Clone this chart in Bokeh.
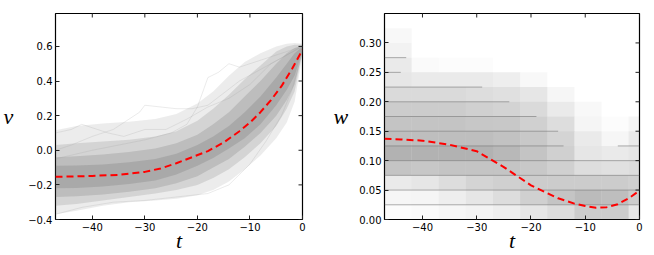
import math
from bokeh.plotting import figure
from bokeh.layouts import row
from bokeh.models import LinearAxis, FixedTicker, ColumnDataSource
from bokeh.embed import file_html
from bokeh.resources import INLINE

# ---------------- left panel data (v) ----------------
t_band = [-47, -43, -38, -33, -28, -24, -20, -17, -14, -11, -8, -5, -3, -1.5, 0]
v_outer_hi = [0.115, 0.14, 0.155, 0.165, 0.18, 0.21, 0.27, 0.34, 0.43, 0.51, 0.56, 0.60, 0.615, 0.62, 0.615]
v_outer_lo = [-0.37, -0.35, -0.32, -0.30, -0.29, -0.28, -0.26, -0.23, -0.18, -0.11, -0.03, 0.07, 0.16, 0.28, 0.55]
v_mid_hi = [0.03, 0.04, 0.05, 0.06, 0.08, 0.11, 0.17, 0.24, 0.32, 0.41, 0.49, 0.57, 0.60, 0.61, 0.61]
v_mid_lo = [-0.32, -0.31, -0.29, -0.27, -0.25, -0.23, -0.20, -0.16, -0.11, -0.04, 0.04, 0.14, 0.24, 0.34, 0.565]
v_dense_hi = [-0.04, -0.035, -0.025, -0.01, 0.01, 0.04, 0.09, 0.15, 0.22, 0.31, 0.40, 0.50, 0.56, 0.59, 0.605]
v_dense_lo = [-0.27, -0.265, -0.255, -0.24, -0.22, -0.19, -0.15, -0.10, -0.05, 0.02, 0.10, 0.20, 0.29, 0.38, 0.57]
v_core_hi = [-0.09, -0.088, -0.082, -0.07, -0.05, -0.02, 0.03, 0.08, 0.14, 0.22, 0.31, 0.42, 0.50, 0.56, 0.60]
v_core_lo = [-0.22, -0.218, -0.21, -0.195, -0.175, -0.14, -0.09, -0.045, 0.01, 0.07, 0.15, 0.26, 0.35, 0.43, 0.575]

out1_t = [-47, -44, -40, -36, -33, -31, -30, -27, -24, -21, -18, -15, -12, -9, -6, -3, 0]
out1_v = [0.0, 0.03, 0.08, 0.12, 0.18, 0.22, 0.26, 0.25, 0.24, 0.24, 0.26, 0.33, 0.40, 0.45, 0.50, 0.55, 0.60]
out2_t = [-47, -40, -35, -30, -25, -22, -20, -18, -16, -14, -12, -10, -8, -5, -2, 0]
out2_v = [-0.05, 0.0, 0.03, 0.06, 0.10, 0.15, 0.25, 0.42, 0.45, 0.50, 0.48, 0.50, 0.52, 0.55, 0.58, 0.60]
out3_t = [-47, -44, -42, -40, -37, -34, -30, -26, -22, -18, -14, -10, -6, -3, 0]
out3_v = [0.10, 0.12, 0.15, 0.13, 0.10, 0.08, 0.12, 0.12, 0.18, 0.25, 0.30, 0.38, 0.50, 0.55, 0.60]
out4_t = [-47, -42, -36, -30, -24, -18, -14, -10, -7, -4, -2, 0]
out4_v = [-0.37, -0.33, -0.30, -0.29, -0.27, -0.25, -0.20, -0.08, 0.05, 0.20, 0.35, 0.57]

mean_t = [-47, -44, -40, -35, -30, -27, -24, -21, -18, -15, -12, -10, -8, -6, -4, -2, 0]
mean_v = [-0.153, -0.152, -0.148, -0.142, -0.125, -0.105, -0.075, -0.04, -0.005, 0.045,
          0.11, 0.16, 0.22, 0.29, 0.37, 0.47, 0.58]

v_ticks = [-0.4, -0.2, 0.0, 0.2, 0.4, 0.6]
t_ticks = [-40, -30, -20, -10, 0]

# ---------------- right panel data (w) ----------------
t_edges = [-47, -42, -37, -32, -27, -22, -17, -12, -7, -2, 0]
w_edges = [0, 0.025, 0.05, 0.075, 0.1, 0.125, 0.15, 0.175, 0.2, 0.225, 0.25, 0.275, 0.3, 0.325]
w_density = [
    [0.02, 0.03, 0.05, 0.07, 0.10, 0.15, 0.20, 0.30, 0.30, 0.15],
    [0.05, 0.06, 0.10, 0.15, 0.20, 0.28, 0.35, 0.40, 0.38, 0.30],
    [0.12, 0.15, 0.20, 0.25, 0.28, 0.30, 0.30, 0.30, 0.30, 0.28],
    [0.35, 0.33, 0.35, 0.35, 0.35, 0.32, 0.28, 0.20, 0.18, 0.20],
    [0.45, 0.45, 0.45, 0.45, 0.42, 0.35, 0.28, 0.15, 0.12, 0.15],
    [0.38, 0.38, 0.38, 0.38, 0.36, 0.32, 0.25, 0.12, 0.05, 0.12],
    [0.35, 0.35, 0.35, 0.33, 0.32, 0.28, 0.20, 0.06, 0.02, 0.06],
    [0.30, 0.30, 0.30, 0.28, 0.26, 0.22, 0.12, 0.04, 0.0, 0.0],
    [0.22, 0.22, 0.22, 0.20, 0.18, 0.15, 0.05, 0.0, 0.0, 0.0],
    [0.15, 0.12, 0.12, 0.12, 0.10, 0.04, 0.0, 0.0, 0.0, 0.0],
    [0.12, 0.03, 0.02, 0.02, 0.0, 0.0, 0.0, 0.0, 0.0, 0.0],
    [0.08, 0.0, 0.0, 0.0, 0.0, 0.0, 0.0, 0.0, 0.0, 0.0],
    [0.04, 0.0, 0.0, 0.0, 0.0, 0.0, 0.0, 0.0, 0.0, 0.0],
]
lvl_w = [0.025, 0.05, 0.075, 0.1, 0.125, 0.125, 0.15, 0.175, 0.2, 0.225, 0.25, 0.275]
lvl_t0 = [-47, -47, -47, -47, -47, -4, -47, -47, -47, -47, -47, -47]
lvl_t1 = [0, 0, 0, 0, -14, 0, -15, -19, -24, -29, -44, -43]

wmean_t = [-47, -44, -40, -35, -30, -25, -20, -15, -12, -10, -8, -6, -4, -2, 0]
wmean_w = [0.137, 0.136, 0.134, 0.127, 0.116, 0.089, 0.058, 0.036, 0.027, 0.023,
           0.020, 0.021, 0.026, 0.036, 0.049]
w_ticks = [0.0, 0.05, 0.10, 0.15, 0.20, 0.25, 0.30]

TICK_FONT = "DejaVu Sans"
LABEL_FONT = "Liberation Serif"


def minus(x, fmt):
    return fmt.format(x).replace("-", "\u2212")


def style(p, xticks, yticks, yfmt, xr, yr, ylabel, ystand):
    p.xaxis.visible = False
    p.yaxis.visible = False
    p.grid.visible = False
    p.outline_line_color = "black"
    p.outline_line_width = 1.2
    for loc in ["below", "left"]:
        is_x = loc == "below"
        ticks = xticks if is_x else yticks
        ax = LinearAxis(ticker=FixedTicker(ticks=ticks))
        ax.axis_line_color = None
        ax.major_tick_in = 4
        ax.major_tick_out = 0
        ax.major_tick_line_color = "#222222"
        ax.minor_tick_line_color = None
        ax.major_label_text_font = TICK_FONT
        ax.major_label_text_font_size = "10px"
        ax.major_label_text_color = "black"
        ax.major_label_standoff = 3
        ax.axis_label_text_font = LABEL_FONT
        ax.axis_label_text_font_style = "italic"
        ax.axis_label_text_font_size = "22px"
        ax.axis_label_text_color = "black"
        if is_x:
            ax.major_label_overrides = {t: minus(t, "{:d}") for t in ticks}
            ax.axis_label = "t"
            ax.axis_label_standoff = -6
        else:
            ax.major_label_overrides = {t: minus(t, yfmt) for t in ticks}
            ax.axis_label = ylabel
            ax.axis_label_orientation = "horizontal"
            ax.axis_label_standoff = ystand
        p.add_layout(ax, loc)
    # inward ticks on the top and right edges (half of each dash is clipped by the frame)
    p.scatter(x=xticks, y=[yr[1]] * len(xticks), marker="dash", size=8, angle=math.pi / 2,
              line_color="#222222", line_width=1)
    p.scatter(x=[xr[1]] * len(yticks), y=yticks, marker="dash", size=8,
              line_color="#222222", line_width=1)


# ---------------- left figure ----------------
xr1, yr1 = (-47, 0), (-0.4, 0.79)
p1 = figure(width=308, height=255, x_range=xr1, y_range=yr1,
            output_backend="svg", toolbar_location=None,
            min_border_left=47, min_border_right=6, min_border_top=13, min_border_bottom=34)
GRAY = "#777777"
p1.varea(x=t_band, y1=v_outer_lo, y2=v_outer_hi, fill_color=GRAY, fill_alpha=0.14)
p1.varea(x=t_band, y1=v_mid_lo, y2=v_mid_hi, fill_color=GRAY, fill_alpha=0.2)
p1.varea(x=t_band, y1=v_dense_lo, y2=v_dense_hi, fill_color=GRAY, fill_alpha=0.25)
p1.varea(x=t_band, y1=v_core_lo, y2=v_core_hi, fill_color=GRAY, fill_alpha=0.28)
for tt, vv in [(out1_t, out1_v), (out2_t, out2_v), (out3_t, out3_v), (out4_t, out4_v)]:
    p1.line(tt, vv, line_color="#999999", line_alpha=0.25, line_width=0.8)
p1.line(mean_t, mean_v, line_color="red", line_width=2, line_dash="7 4")
style(p1, t_ticks, v_ticks, "{:.1f}", xr1, yr1, "v", 12)

# ---------------- right figure ----------------
xr2, yr2 = (-47, 0), (0, 0.35)
p2 = figure(width=346, height=255, x_range=xr2, y_range=yr2,
            output_backend="svg", toolbar_location=None,
            min_border_left=76, min_border_right=15, min_border_top=13, min_border_bottom=34)
ql, qr, qb, qt, qa = [], [], [], [], []
for i, rowvals in enumerate(w_density):
    for j, a in enumerate(rowvals):
        if a > 0:
            ql.append(t_edges[j]); qr.append(t_edges[j + 1])
            qb.append(w_edges[i]); qt.append(w_edges[i + 1]); qa.append(a)
src = ColumnDataSource(dict(left=ql, right=qr, bottom=qb, top=qt, alpha=qa))
p2.quad(left="left", right="right", bottom="bottom", top="top", source=src,
        fill_color="#555555", fill_alpha="alpha", line_color=None)
p2.segment(x0=lvl_t0, x1=lvl_t1, y0=lvl_w, y1=lvl_w, line_color="#777777",
           line_alpha=0.6, line_width=1)
p2.line(wmean_t, wmean_w, line_color="red", line_width=2, line_dash="7 4")
style(p2, t_ticks, w_ticks, "{:.2f}", xr2, yr2, "w", 8)

layout = row(p1, p2)
open("out.html", "w").write(file_html(layout, INLINE))
